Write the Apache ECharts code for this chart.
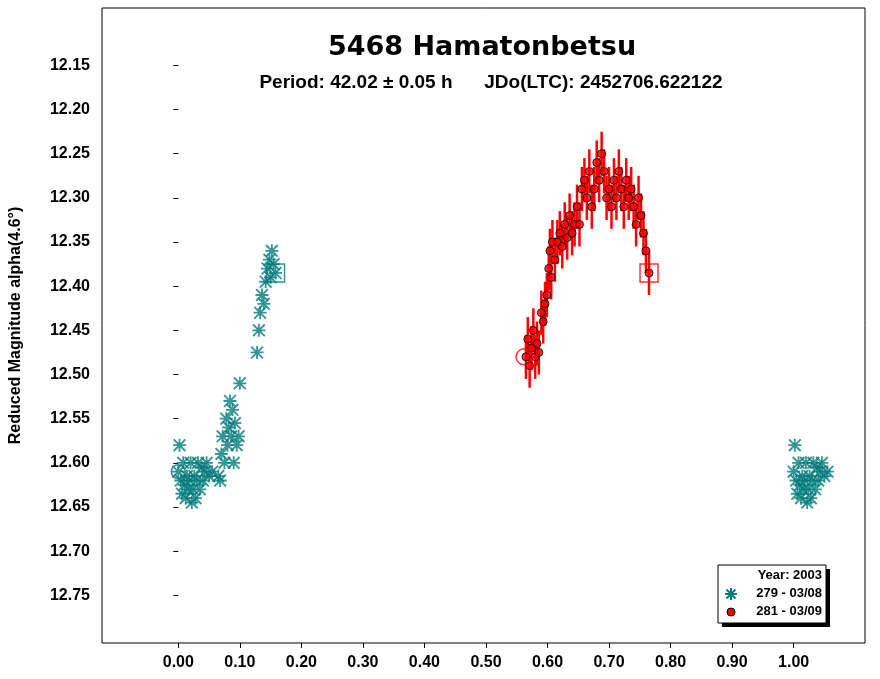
<!DOCTYPE html>
<html>
<head>
<meta charset="utf-8">
<script src="https://cdn.jsdelivr.net/npm/echarts@6/dist/echarts.min.js"></script>
<style>html,body{margin:0;padding:0;background:#fff}#main{width:880px;height:679px}</style>
</head>
<body>
<div id="main"></div>
<script>
// session 279 - 03/08 : [phase, mag]
var night279 = [
  [0.000,12.61],[0.002,12.58],[0.004,12.62],[0.006,12.635],[0.008,12.60],[0.010,12.625],[0.012,12.64],
  [0.014,12.615],[0.016,12.63],[0.018,12.62],[0.020,12.60],[0.022,12.645],[0.024,12.63],[0.026,12.615],
  [0.028,12.64],[0.030,12.62],[0.032,12.60],[0.035,12.63],[0.038,12.605],[0.040,12.62],[0.043,12.61],
  [0.046,12.60],[0.050,12.615],[0.055,12.61],
  [0.065,12.615],[0.068,12.62],[0.070,12.59],[0.072,12.57],[0.075,12.60],[0.078,12.55],[0.080,12.58],
  [0.082,12.56],[0.084,12.53],[0.086,12.57],[0.088,12.54],[0.090,12.60],[0.092,12.555],[0.095,12.58],
  [0.098,12.57],[0.100,12.51],
  [0.128,12.475],[0.131,12.45],[0.133,12.43],[0.136,12.41],[0.139,12.42],[0.142,12.395],[0.145,12.38],
  [0.148,12.37],[0.150,12.39],[0.152,12.36],[0.155,12.375],[0.158,12.385]
];
// session 281 - 03/09 : [phase, mag]
var night281 = [
  [0.565,12.48],[0.568,12.46],[0.571,12.49],[0.574,12.47],[0.577,12.45],[0.580,12.48],[0.583,12.465],
  [0.586,12.475],[0.590,12.43],[0.593,12.44],[0.596,12.42],[0.599,12.41],[0.602,12.38],[0.604,12.36],
  [0.606,12.39],[0.608,12.35],[0.612,12.37],[0.616,12.35],[0.620,12.34],[0.624,12.355],[0.628,12.33],
  [0.632,12.345],[0.636,12.32],[0.640,12.34],[0.644,12.33],[0.648,12.31],[0.652,12.33],[0.656,12.29],
  [0.660,12.28],[0.664,12.30],[0.668,12.27],[0.672,12.31],[0.676,12.29],[0.680,12.26],[0.684,12.28],
  [0.688,12.25],[0.692,12.27],[0.696,12.30],[0.700,12.29],[0.704,12.31],[0.708,12.28],[0.712,12.30],
  [0.716,12.27],[0.720,12.29],[0.724,12.31],[0.728,12.28],[0.732,12.30],[0.736,12.29],[0.740,12.31],
  [0.744,12.33],[0.748,12.30],[0.752,12.32],[0.756,12.34],[0.760,12.36],[0.765,12.385]
];
var err281 = 0.025;
var xTicks = [0,0.1,0.2,0.3,0.4,0.5,0.6,0.7,0.8,0.9,1.0];
var yTicks = [12.15,12.2,12.25,12.3,12.35,12.4,12.45,12.5,12.55,12.6,12.65,12.7,12.75];

var teal = '#007b7b';
var star = 'path://M4.3,0H5.7V10H4.3Z M0,4.3H10V5.7H0Z M0,1L1,0L10,9L9,10Z M9,0L10,1L1,10L0,9Z';
var font = 'Liberation Sans, Arial, sans-serif';

// phase wraps: points near 0 are repeated at phase+1
var wrapped279 = night279.filter(function (p) { return p[0] < 0.06; }).map(function (p) { return [p[0] + 1, p[1]]; });

function starLine(x1, y1, x2, y2) {
  return {type: 'line', shape: {x1: x1, y1: y1, x2: x2, y2: y2}, style: {stroke: teal, lineWidth: 2}};
}

var chart = echarts.init(document.getElementById('main'));
chart.setOption({
  animation: false,
  title: [
    {text: '5468 Hamatonbetsu', left: 477, top: 29, textAlign: 'center',
     textStyle: {fontFamily: 'DejaVu Sans, sans-serif', fontSize: 27, fontWeight: 'bold', color: '#000'}},
    {text: 'Period: 42.02 \u00b1 0.05 h      JDo(LTC): 2452706.622122', left: 486, top: 68, textAlign: 'center',
     textStyle: {fontFamily: font, fontSize: 19, fontWeight: 'bold', color: '#000'}}
  ],
  grid: {left: 97, right: 15, top: 8, bottom: 36, show: true, borderColor: '#000', borderWidth: 1},
  xAxis: {
    type: 'value', min: -0.124, max: 1.116,
    axisLine: {show: false}, splitLine: {show: false},
    axisTick: {customValues: xTicks, length: 5, lineStyle: {color: '#000'}},
    axisLabel: {customValues: xTicks, formatter: function (v) { return v.toFixed(2); },
      fontFamily: font, fontSize: 16, fontWeight: 'bold', color: '#000', margin: 12}
  },
  yAxis: {
    type: 'value', inverse: true, min: 12.085, max: 12.804,
    name: 'Reduced Magnitude alpha(4.6\u00b0)', nameLocation: 'middle', nameGap: 78,
    nameTextStyle: {fontFamily: font, fontSize: 16, fontWeight: 'bold', color: '#000'},
    axisLine: {show: false}, splitLine: {show: false},
    axisTick: {customValues: yTicks, length: 5, lineStyle: {color: '#000'}},
    axisLabel: {customValues: yTicks, formatter: function (v) { return v.toFixed(2); },
      fontFamily: font, fontSize: 16, fontWeight: 'bold', color: '#000', margin: 12}
  },
  series: [
    {type: 'custom', name: 'err', data: night281, z: 2,
     renderItem: function (params, api) {
       var a = api.coord([api.value(0), api.value(1) - err281]);
       var b = api.coord([api.value(0), api.value(1) + err281]);
       return {type: 'line', shape: {x1: a[0], y1: a[1], x2: b[0], y2: b[1]},
               style: {stroke: '#ff0000', lineWidth: 2.5}};
     }},
    {type: 'scatter', name: '281 - 03/09', data: night281, symbol: 'circle', symbolSize: 8, z: 3,
     itemStyle: {color: '#ff0000', borderColor: '#000', borderWidth: 1}},
    {type: 'scatter', name: '279 - 03/08', data: night279.concat(wrapped279), symbol: star, symbolSize: 13, z: 3,
     itemStyle: {color: teal}},
    {type: 'scatter', data: [[night279[0][0], night279[0][1]]], symbol: 'circle', symbolSize: 14, z: 4,
     itemStyle: {color: 'none', borderColor: teal, borderWidth: 1.5}},
    {type: 'scatter', data: [[night279[night279.length - 1][0], night279[night279.length - 1][1]]], symbol: 'rect', symbolSize: 18, z: 4,
     itemStyle: {color: 'none', borderColor: teal, borderWidth: 1.5}},
    {type: 'scatter', data: [[night281[0][0] - 0.003, night281[0][1]]], symbol: 'circle', symbolSize: 16, z: 4,
     itemStyle: {color: 'none', borderColor: '#ff0000', borderWidth: 1.5}},
    {type: 'scatter', data: [[night281[night281.length - 1][0], night281[night281.length - 1][1]]], symbol: 'rect', symbolSize: 18, z: 4,
     itemStyle: {color: 'none', borderColor: '#ff0000', borderWidth: 1.5}}
  ],
  graphic: [{
    type: 'group', x: 718, y: 565, z: 10,
    children: [
      {type: 'rect', shape: {x: 4, y: 4, width: 108, height: 58}, style: {fill: '#000'}},
      {type: 'rect', shape: {x: 0, y: 0, width: 108, height: 58}, style: {fill: '#fff', stroke: '#000', lineWidth: 1}},
      {type: 'text', x: 104, y: 4, style: {text: 'Year: 2003', align: 'right', font: 'bold 13px ' + font, fill: '#000'}},
      starLine(13, 23, 13, 35), starLine(7, 29, 19, 29), starLine(8.5, 24.5, 17.5, 33.5), starLine(17.5, 24.5, 8.5, 33.5),
      {type: 'text', x: 104, y: 22, style: {text: '279 - 03/08', align: 'right', font: 'bold 13px ' + font, fill: '#000'}},
      {type: 'circle', shape: {cx: 13, cy: 47, r: 4}, style: {fill: '#ff0000', stroke: '#000', lineWidth: 1}},
      {type: 'text', x: 104, y: 40, style: {text: '281 - 03/09', align: 'right', font: 'bold 13px ' + font, fill: '#000'}}
    ]
  }]
});
</script>
</body>
</html>
